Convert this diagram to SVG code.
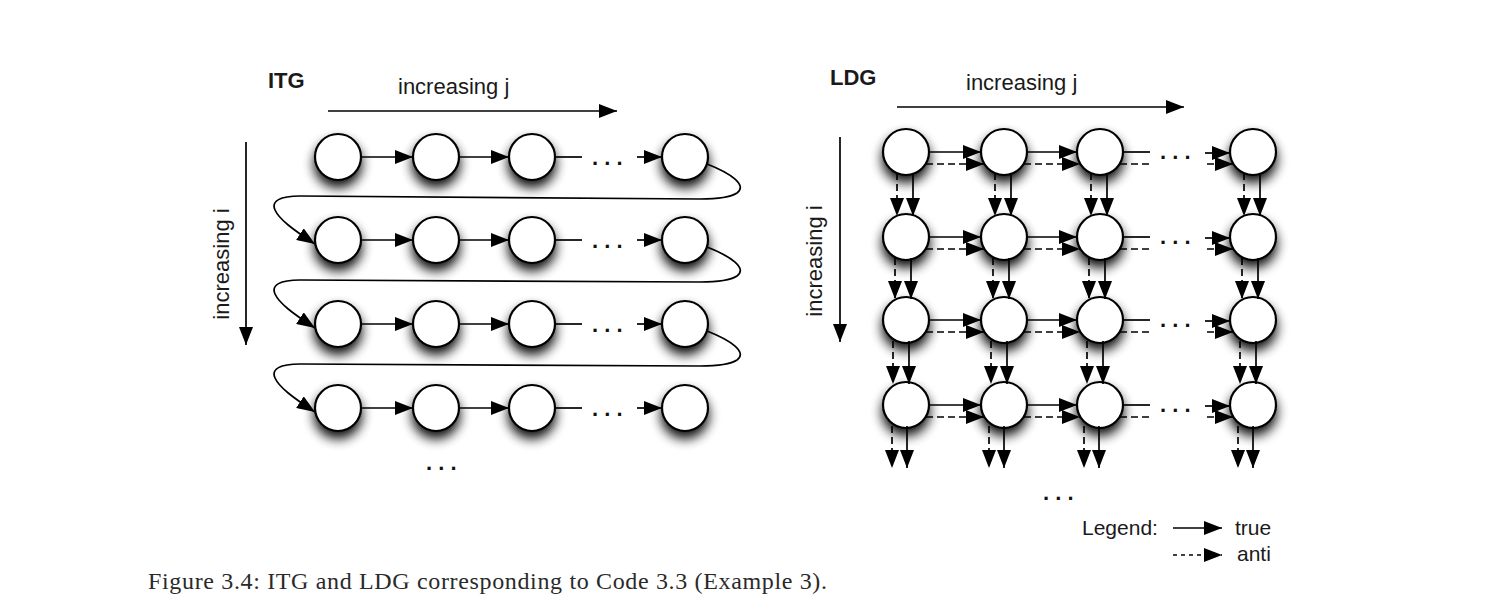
<svg xmlns="http://www.w3.org/2000/svg" width="1511" height="607" viewBox="0 0 1511 607">
<style>
.t{font-family:"Liberation Sans",Arial,sans-serif;fill:#1a1a1a}
.b{font-weight:bold}
.n circle{fill:#fff;stroke:#000;stroke-width:2.2}
.e{fill:none;stroke:#000;stroke-width:1.7}
.d{stroke-dasharray:7 4}
.dots{font-family:"Liberation Sans",Arial,sans-serif;font-size:22px;font-weight:bold;fill:#111}
</style>
<defs>
<marker id="ah" markerUnits="userSpaceOnUse" markerWidth="19" markerHeight="14" refX="18" refY="7" orient="auto" viewBox="0 0 19 14"><path d="M0,0 L18,7 L0,14 z" fill="#000"/></marker>
<filter id="sh" x="-60%" y="-60%" width="220%" height="240%">
<feGaussianBlur in="SourceAlpha" stdDeviation="6"/>
<feOffset dy="7" result="o"/>
<feComponentTransfer><feFuncA type="linear" slope="0.95"/></feComponentTransfer>
<feMerge><feMergeNode/><feMergeNode in="SourceGraphic"/></feMerge>
</filter>
</defs>
<rect width="1511" height="607" fill="#fff"/>

<!-- ITG labels -->
<g id="itg-labels">
<text class="t b" x="268" y="88" font-size="22">ITG</text>
<text class="t" x="398" y="94" font-size="22">increasing j</text>
<text class="t" font-size="22" text-anchor="middle" transform="translate(229,264) rotate(-90)">increasing i</text>
<path class="e" d="M328,111 L617,111" marker-end="url(#ah)"/>
<path class="e" d="M246,142 L246,345" marker-end="url(#ah)"/>
<text class="dots" x="426" y="470">. . .</text>
</g>

<!-- ITG nodes -->
<g id="itg-nodes" class="n" filter="url(#sh)">
<g id="itg-r1"><circle cx="338" cy="157" r="23"/><circle cx="436" cy="157" r="23"/><circle cx="532" cy="157" r="23"/><circle cx="685" cy="157" r="23"/></g>
<g id="itg-r2"><circle cx="338" cy="240" r="23"/><circle cx="436" cy="240" r="23"/><circle cx="532" cy="240" r="23"/><circle cx="685" cy="240" r="23"/></g>
<g id="itg-r3"><circle cx="338" cy="324" r="23"/><circle cx="436" cy="324" r="23"/><circle cx="532" cy="324" r="23"/><circle cx="685" cy="324" r="23"/></g>
<g id="itg-r4"><circle cx="338" cy="408" r="23"/><circle cx="436" cy="408" r="23"/><circle cx="532" cy="408" r="23"/><circle cx="685" cy="408" r="23"/></g>
</g>

<!-- ITG connectors -->
<g id="itg-edges">
<path class="e" d="M361,157 L413,157" marker-end="url(#ah)"/><path class="e" d="M459,157 L509,157" marker-end="url(#ah)"/><path class="e" d="M555,157 L582,157"/><path class="e" d="M637,157 L662,157" marker-end="url(#ah)"/>
<path class="e" d="M361,240 L413,240" marker-end="url(#ah)"/><path class="e" d="M459,240 L509,240" marker-end="url(#ah)"/><path class="e" d="M555,240 L582,240"/><path class="e" d="M637,240 L662,240" marker-end="url(#ah)"/>
<path class="e" d="M361,324 L413,324" marker-end="url(#ah)"/><path class="e" d="M459,324 L509,324" marker-end="url(#ah)"/><path class="e" d="M555,324 L582,324"/><path class="e" d="M637,324 L662,324" marker-end="url(#ah)"/>
<path class="e" d="M361,408 L413,408" marker-end="url(#ah)"/><path class="e" d="M459,408 L509,408" marker-end="url(#ah)"/><path class="e" d="M555,408 L582,408"/><path class="e" d="M637,408 L662,408" marker-end="url(#ah)"/>
<path class="e" d="M707,164 C730,173 748,185 737,193 C731,197 715,199 700,199 L300,196 C280,196 271,201 275,210 C279,219 292,229 315,244" marker-end="url(#ah)"/>
<path class="e" d="M707,247 C730,256 748,268 737,276 C731,280 715,282 700,282 L300,280 C280,280 271,285 275,294 C279,303 292,313 315,328" marker-end="url(#ah)"/>
<path class="e" d="M707,331 C730,340 748,352 737,360 C731,364 715,366 700,366 L300,364 C280,364 271,369 275,378 C279,387 292,397 315,412" marker-end="url(#ah)"/>
<text class="dots" x="592" y="165">. . .</text>
<text class="dots" x="592" y="248">. . .</text>
<text class="dots" x="592" y="332">. . .</text>
<text class="dots" x="592" y="416">. . .</text>
</g>

<!-- LDG labels -->
<g id="ldg-labels">
<text class="t b" x="830" y="85" font-size="22">LDG</text>
<text class="t" x="966" y="90" font-size="22">increasing j</text>
<text class="t" font-size="22" text-anchor="middle" transform="translate(822,261) rotate(-90)">increasing i</text>
<path class="e" d="M897,107 L1184,107" marker-end="url(#ah)"/>
<path class="e" d="M840,137 L840,342" marker-end="url(#ah)"/>
<text class="dots" x="1043" y="500">. . .</text>
</g>

<!-- LDG nodes -->
<g id="ldg-nodes" class="n" filter="url(#sh)">
<g id="ldg-r1"><circle cx="906" cy="152" r="23"/><circle cx="1004" cy="152" r="23"/><circle cx="1100" cy="152" r="23"/><circle cx="1253" cy="152" r="23"/></g>
<g id="ldg-r2"><circle cx="906" cy="237" r="23"/><circle cx="1004" cy="237" r="23"/><circle cx="1100" cy="237" r="23"/><circle cx="1253" cy="237" r="23"/></g>
<g id="ldg-r3"><circle cx="906" cy="320" r="23"/><circle cx="1004" cy="320" r="23"/><circle cx="1100" cy="320" r="23"/><circle cx="1253" cy="320" r="23"/></g>
<g id="ldg-r4"><circle cx="906" cy="405" r="23"/><circle cx="1004" cy="405" r="23"/><circle cx="1100" cy="405" r="23"/><circle cx="1253" cy="405" r="23"/></g>
</g>

<!-- LDG connectors -->
<g id="ldg-edges">
<path class="e" d="M929,152 L981,152" marker-end="url(#ah)"/><path class="e" d="M1027,152 L1077,152" marker-end="url(#ah)"/><path class="e" d="M1123,152 L1150,152"/><path class="e" d="M1205,153 L1230,153" marker-end="url(#ah)"/>
<path class="e d" d="M926,164 L984,164" marker-end="url(#ah)"/><path class="e d" d="M1024,164 L1080,164" marker-end="url(#ah)"/><path class="e d" d="M1120,164 L1150,164"/><path class="e d" d="M1207,164 L1233,164" marker-end="url(#ah)"/>
<path class="e" d="M929,237 L981,237" marker-end="url(#ah)"/><path class="e" d="M1027,237 L1077,237" marker-end="url(#ah)"/><path class="e" d="M1123,237 L1150,237"/><path class="e" d="M1205,238 L1230,238" marker-end="url(#ah)"/>
<path class="e d" d="M926,249 L984,249" marker-end="url(#ah)"/><path class="e d" d="M1024,249 L1080,249" marker-end="url(#ah)"/><path class="e d" d="M1120,249 L1150,249"/><path class="e d" d="M1207,249 L1233,249" marker-end="url(#ah)"/>
<path class="e" d="M929,320 L981,320" marker-end="url(#ah)"/><path class="e" d="M1027,320 L1077,320" marker-end="url(#ah)"/><path class="e" d="M1123,320 L1150,320"/><path class="e" d="M1205,321 L1230,321" marker-end="url(#ah)"/>
<path class="e d" d="M926,332 L984,332" marker-end="url(#ah)"/><path class="e d" d="M1024,332 L1080,332" marker-end="url(#ah)"/><path class="e d" d="M1120,332 L1150,332"/><path class="e d" d="M1207,332 L1233,332" marker-end="url(#ah)"/>
<path class="e" d="M929,405 L981,405" marker-end="url(#ah)"/><path class="e" d="M1027,405 L1077,405" marker-end="url(#ah)"/><path class="e" d="M1123,405 L1150,405"/><path class="e" d="M1205,406 L1230,406" marker-end="url(#ah)"/>
<path class="e d" d="M926,417 L984,417" marker-end="url(#ah)"/><path class="e d" d="M1024,417 L1080,417" marker-end="url(#ah)"/><path class="e d" d="M1120,417 L1150,417"/><path class="e d" d="M1207,417 L1233,417" marker-end="url(#ah)"/>
<path class="e d" d="M897,173 L897,216" marker-end="url(#ah)"/><path class="e" d="M913,173 L913,216" marker-end="url(#ah)"/>
<path class="e d" d="M995,173 L995,216" marker-end="url(#ah)"/><path class="e" d="M1011,173 L1011,216" marker-end="url(#ah)"/>
<path class="e d" d="M1091,173 L1091,216" marker-end="url(#ah)"/><path class="e" d="M1107,173 L1107,216" marker-end="url(#ah)"/>
<path class="e d" d="M1244,173 L1244,216" marker-end="url(#ah)"/><path class="e" d="M1260,173 L1260,216" marker-end="url(#ah)"/>
<path class="e d" d="M895,258 L895,299" marker-end="url(#ah)"/><path class="e" d="M911,258 L911,299" marker-end="url(#ah)"/>
<path class="e d" d="M993,258 L993,299" marker-end="url(#ah)"/><path class="e" d="M1009,258 L1009,299" marker-end="url(#ah)"/>
<path class="e d" d="M1089,258 L1089,299" marker-end="url(#ah)"/><path class="e" d="M1105,258 L1105,299" marker-end="url(#ah)"/>
<path class="e d" d="M1242,258 L1242,299" marker-end="url(#ah)"/><path class="e" d="M1258,258 L1258,299" marker-end="url(#ah)"/>
<path class="e d" d="M893,341 L893,384" marker-end="url(#ah)"/><path class="e" d="M909,341 L909,384" marker-end="url(#ah)"/>
<path class="e d" d="M991,341 L991,384" marker-end="url(#ah)"/><path class="e" d="M1007,341 L1007,384" marker-end="url(#ah)"/>
<path class="e d" d="M1087,341 L1087,384" marker-end="url(#ah)"/><path class="e" d="M1103,341 L1103,384" marker-end="url(#ah)"/>
<path class="e d" d="M1240,341 L1240,384" marker-end="url(#ah)"/><path class="e" d="M1256,341 L1256,384" marker-end="url(#ah)"/>
<path class="e d" d="M892,426 L892,468" marker-end="url(#ah)"/><path class="e" d="M907,426 L907,468" marker-end="url(#ah)"/>
<path class="e d" d="M989,426 L989,468" marker-end="url(#ah)"/><path class="e" d="M1004,426 L1004,468" marker-end="url(#ah)"/>
<path class="e d" d="M1084,426 L1084,468" marker-end="url(#ah)"/><path class="e" d="M1099,426 L1099,468" marker-end="url(#ah)"/>
<path class="e d" d="M1238,426 L1238,468" marker-end="url(#ah)"/><path class="e" d="M1253,426 L1253,468" marker-end="url(#ah)"/>
<text class="dots" x="1160" y="159">. . .</text>
<text class="dots" x="1160" y="244">. . .</text>
<text class="dots" x="1160" y="327">. . .</text>
<text class="dots" x="1160" y="412">. . .</text>
</g>

<!-- Legend -->
<g id="legend">
<text class="t" x="1082" y="535" font-size="21">Legend:</text>
<path class="e" d="M1173,528 L1222,528" marker-end="url(#ah)"/>
<text class="t" x="1235" y="535" font-size="21">true</text>
<path class="e" d="M1173,555 L1222,555" stroke-dasharray="4 4" marker-end="url(#ah)"/>
<text class="t" x="1237" y="561" font-size="21">anti</text>
</g>

<!-- Caption -->
<text x="148" y="589" font-family="'Liberation Serif','Times New Roman',serif" font-size="24" fill="#2a2a2a" textLength="679" lengthAdjust="spacing">Figure 3.4: ITG and LDG corresponding to Code 3.3 (Example 3).</text>
</svg>
